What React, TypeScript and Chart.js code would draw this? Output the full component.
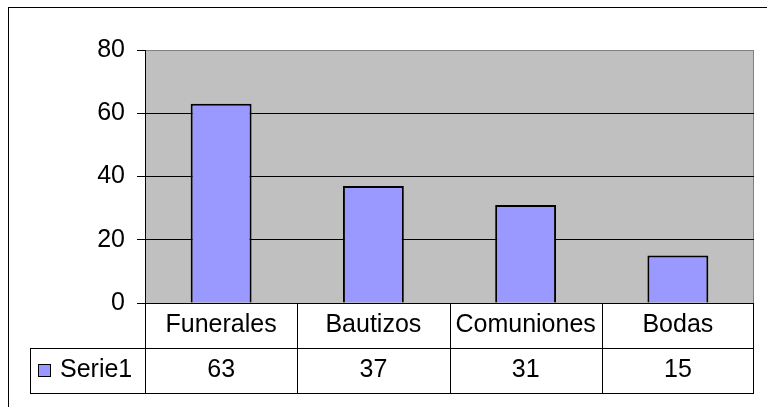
import React, { useEffect, useRef } from "react";
import { Chart, registerables } from "chart.js";

Chart.register(...registerables);

const categories = ["Funerales", "Bautizos", "Comuniones", "Bodas"];
const seriesName = "Serie1";
const values = [63, 37, 31, 15];
const yMin = 0;
const yMax = 80;
const yStep = 20;

const FONT = '"Liberation Sans", Arial, sans-serif';
const FSIZE = 25;

export default function App() {
  const ref = useRef<HTMLCanvasElement>(null);

  useEffect(() => {
    const canvas = ref.current!;

    const tablePlugin = {
      id: "excelTable",
      beforeDraw(chart: any) {
        const { ctx, chartArea: a } = chart;
        ctx.save();
        ctx.fillStyle = "#ffffff";
        ctx.fillRect(0, 0, chart.width, chart.height);
        ctx.fillStyle = "#C0C0C0";
        ctx.fillRect(a.left, a.top, a.right - a.left, a.bottom - a.top);
        ctx.strokeStyle = "#808080";
        ctx.lineWidth = 1;
        ctx.beginPath();
        ctx.moveTo(a.left, Math.round(a.top) + 0.5);
        ctx.lineTo(Math.round(a.right) - 0.5, Math.round(a.top) + 0.5);
        ctx.lineTo(Math.round(a.right) - 0.5, a.bottom);
        ctx.stroke();
        // outer chart frame
        ctx.strokeStyle = "#000000";
        ctx.strokeRect(8.5, 7.5, chart.width + 20, chart.height + 20);
        ctx.restore();
      },
      afterDraw(chart: any) {
        const { ctx, chartArea: a } = chart;
        const xs = chart.scales.x;
        const n = categories.length;
        const colW = (a.right - a.left) / n;
        const row1Top = Math.round(a.bottom);
        const rowH = 45;
        const row2Top = row1Top + rowH;
        const row2Bot = row2Top + rowH;
        const legendLeft = 30;
        const right = Math.round(a.right);
        const p = (v: number) => Math.round(v) + 0.5;

        ctx.save();
        ctx.strokeStyle = "#000000";
        ctx.lineWidth = 1;
        ctx.beginPath();
        ctx.moveTo(a.left, p(row1Top));
        ctx.lineTo(right, p(row1Top));
        ctx.moveTo(legendLeft, p(row2Top));
        ctx.lineTo(right, p(row2Top));
        ctx.moveTo(legendLeft, p(row2Bot));
        ctx.lineTo(right, p(row2Bot));
        for (let i = 0; i <= n; i++) {
          const x = i < n ? xs.getPixelForValue(i) - colW / 2 : xs.getPixelForValue(n - 1) + colW / 2;
          const xx = i === n ? Math.round(x) - 0.5 : p(x);
          ctx.moveTo(xx, row1Top);
          ctx.lineTo(xx, row2Bot + 0.5);
        }
        ctx.moveTo(p(legendLeft), row2Top);
        ctx.lineTo(p(legendLeft), row2Bot + 0.5);
        ctx.stroke();

        ctx.fillStyle = "#000000";
        ctx.font = `${FSIZE}px ${FONT}`;
        ctx.textAlign = "center";
        ctx.textBaseline = "alphabetic";
        const base1 = row1Top + 29;
        const base2 = row2Top + 29;
        categories.forEach((c, i) => {
          const cx = xs.getPixelForValue(i);
          ctx.fillText(c, cx, base1);
          ctx.fillText(String(values[i]), cx, base2);
        });

        const ky = row2Top + 16;
        ctx.fillStyle = "#9999FF";
        ctx.fillRect(38, ky, 13, 13);
        ctx.strokeStyle = "#000000";
        ctx.strokeRect(38.5, ky + 0.5, 12, 12);
        ctx.fillStyle = "#000000";
        ctx.textAlign = "left";
        ctx.fillText(seriesName, 60, base2);
        ctx.restore();
      },
    };

    const chart = new Chart(canvas, {
      type: "bar",
      data: {
        labels: categories,
        datasets: [
          {
            label: seriesName,
            data: values,
            backgroundColor: "#9999FF",
            borderColor: "#000000",
            borderWidth: 2,
            barPercentage: 0.4,
            categoryPercentage: 1,
          },
        ],
      },
      options: {
        responsive: false,
        animation: false,
        devicePixelRatio: 1,
        layout: { padding: { left: 0, top: 50, right: 13, bottom: 104 } },
        plugins: {
          legend: { display: false },
          tooltip: { enabled: false },
          title: { display: false },
        },
        scales: {
          x: {
            type: "category",
            display: false,
            offset: true,
          },
          y: {
            min: yMin,
            max: yMax,
            ticks: {
              stepSize: yStep,
              color: "#000000",
              font: { family: FONT, size: FSIZE },
              padding: 12,
            },
            grid: {
              color: (c: any) => (c.tick && c.tick.value === yMax ? "#808080" : "#000000"),
              lineWidth: 1,
              drawTicks: true,
              tickLength: 8,
              tickColor: "#000000",
            },
            border: { display: true, color: "#000000", width: 1 },
            afterFit: (s: any) => {
              s.width = 145;
            },
          },
        },
      },
      plugins: [tablePlugin],
    });

    return () => chart.destroy();
  }, []);

  return (
    <div style={{ position: "absolute", left: 0, top: 0, width: 767, height: 407 }}>
      <canvas ref={ref} width={767} height={407} style={{ display: "block", width: 767, height: 407 }} />
    </div>
  );
}
